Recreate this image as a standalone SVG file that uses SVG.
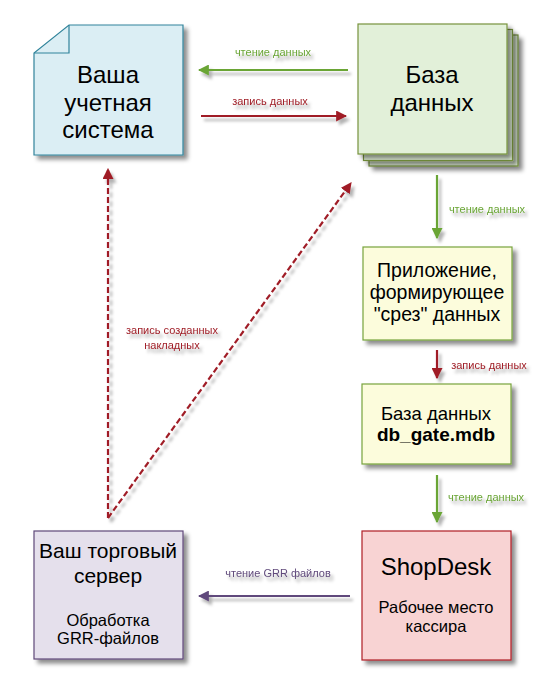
<svg xmlns="http://www.w3.org/2000/svg" width="550" height="690" viewBox="0 0 550 690">
<style>
.t{font-family:"Liberation Sans",Arial,sans-serif;fill:#000;text-anchor:middle}
.lbl{font-family:"Liberation Sans",Arial,sans-serif;font-size:11px;text-anchor:middle}
.g{stroke:#6aa536;stroke-width:2.2;fill:none}
.r{stroke:#a01f28;stroke-width:2.2;fill:none}
.p{stroke:#604a7b;stroke-width:2.2;fill:none}
.d{stroke:#a01f28;stroke-width:2.2;fill:none;stroke-dasharray:6,3}
</style>
<defs>
<filter id="sh" x="-20%" y="-20%" width="150%" height="150%">
<feDropShadow dx="4" dy="4" stdDeviation="2" flood-color="#000" flood-opacity="0.45"/>
</filter>
<filter id="ls" x="-20%" y="-50%" width="150%" height="250%">
<feDropShadow dx="3" dy="4" stdDeviation="1.6" flood-color="#000" flood-opacity="0.3"/>
</filter>
<marker id="ag" viewBox="0 0 10 10" refX="9" refY="5" markerWidth="5" markerHeight="5" orient="auto" markerUnits="strokeWidth"><path d="M0,0 L10,5 L0,10 Z" fill="#6aa536"/></marker>
<marker id="ar" viewBox="0 0 10 10" refX="9" refY="5" markerWidth="5" markerHeight="5" orient="auto" markerUnits="strokeWidth"><path d="M0,0 L10,5 L0,10 Z" fill="#a01f28"/></marker>
<marker id="ap" viewBox="0 0 10 10" refX="9" refY="5" markerWidth="5" markerHeight="5" orient="auto" markerUnits="strokeWidth"><path d="M0,0 L10,5 L0,10 Z" fill="#604a7b"/></marker>
</defs>
<rect width="550" height="690" fill="#fff"/>

<g id="connectors">
<g filter="url(#ls)">
<line class="g" x1="348" y1="70" x2="199" y2="70" marker-end="url(#ag)"/>
<line class="r" x1="201" y1="116" x2="346" y2="116" marker-end="url(#ar)"/>
<line class="g" x1="437" y1="175" x2="437" y2="238" marker-end="url(#ag)"/>
<line class="r" x1="437" y1="350" x2="437" y2="378" marker-end="url(#ar)"/>
<line class="g" x1="437" y1="475" x2="437" y2="522" marker-end="url(#ag)"/>
<line class="p" x1="350" y1="596" x2="199" y2="596" marker-end="url(#ap)"/>
<line class="d" x1="108" y1="518" x2="108" y2="169" marker-end="url(#ar)"/>
<line class="d" x1="108" y1="518" x2="351" y2="183" marker-end="url(#ar)"/>
</g>
<g filter="url(#ls)">
<text class="lbl" x="273" y="56" fill="#6aa536">чтение данных</text>
<text class="lbl" x="270" y="105" fill="#a01f28">запись данных</text>
<text class="lbl" x="487" y="213" fill="#6aa536">чтение данных</text>
<text class="lbl" x="489" y="369" fill="#a01f28">запись данных</text>
<text class="lbl" x="486" y="501" fill="#6aa536">чтение данных</text>
<text class="lbl" x="278" y="577" fill="#604a7b">чтение GRR файлов</text>
<text class="lbl" x="172" y="334" fill="#a01f28">запись созданных</text>
<text class="lbl" x="172" y="349" fill="#a01f28">накладных</text>
</g>
</g>

<g id="accounting">
<path d="M69,25 L183,25 L183,155 L34,155 L34,53 Z" fill="#dbeef4" stroke="#31849b" stroke-width="1.2" filter="url(#sh)"/>
<path d="M34,53 L69,53 L69,25" fill="none" stroke="#31849b" stroke-width="1.2"/>
<text class="t" font-size="24" x="108" y="83">Ваша</text>
<text class="t" font-size="24" x="108" y="111">учетная</text>
<text class="t" font-size="24" x="108" y="138">система</text>
</g>

<g id="database">
<rect x="369" y="35" width="149" height="131" fill="#e2f0d9" stroke="#77933c" stroke-width="1.2" filter="url(#sh)"/>
<rect x="363.5" y="29.5" width="149" height="131" fill="#e2f0d9" stroke="#77933c" stroke-width="1.2" filter="url(#sh)"/>
<rect x="358" y="24" width="149" height="130" fill="#e2f0d9" stroke="#77933c" stroke-width="1.2" filter="url(#sh)"/>
<text class="t" font-size="24" x="432" y="83">База</text>
<text class="t" font-size="24" x="432" y="111">данных</text>
</g>

<g id="app">
<rect x="363" y="247" width="149" height="93" fill="#fcfcdc" stroke="#77a33c" stroke-width="1.2" filter="url(#sh)"/>
<text class="t" font-size="19.5" x="437" y="277">Приложение,</text>
<text class="t" font-size="19.5" x="437" y="299">формирующее</text>
<text class="t" font-size="19.5" x="437" y="321">"срез" данных</text>
</g>

<g id="dbgate">
<rect x="362" y="384" width="149" height="80" fill="#fcfcdc" stroke="#77a33c" stroke-width="1.2" filter="url(#sh)"/>
<text class="t" font-size="18.5" x="436" y="420">База данных</text>
<text class="t" font-size="19" font-weight="bold" x="436" y="441">db_gate.mdb</text>
</g>

<g id="shopdesk">
<rect x="362" y="531" width="149" height="129" fill="#f8d3d3" stroke="#b01f27" stroke-width="1.2" filter="url(#sh)"/>
<text class="t" font-size="24" x="436" y="575">ShopDesk</text>
<text class="t" font-size="16.5" x="436" y="613">Рабочее место</text>
<text class="t" font-size="16.5" x="436" y="632">кассира</text>
</g>

<g id="server">
<rect x="34" y="531" width="149" height="128" fill="#e5e0ec" stroke="#5f497a" stroke-width="1.2" filter="url(#sh)"/>
<text class="t" font-size="21" x="108" y="558">Ваш торговый</text>
<text class="t" font-size="21" x="108" y="583">сервер</text>
<text class="t" font-size="16.5" x="108" y="626">Обработка</text>
<text class="t" font-size="16.5" x="108" y="644">GRR-файлов</text>
</g>
</svg>
